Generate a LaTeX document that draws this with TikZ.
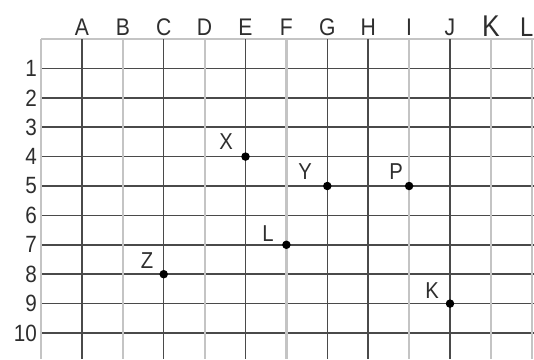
\documentclass[tikz,border=0pt]{standalone}
\usepackage{fontspec}
\setmainfont{Liberation Sans}
\newfontfamily\narrowfont[FakeStretch=0.88]{Liberation Sans}
\definecolor{darkline}{HTML}{4A4A4A}
\definecolor{lightline}{HTML}{C4C4C4}
\definecolor{txt}{HTML}{2E2E2E}
\begin{document}
\begin{tikzpicture}[x=1pt,y=-1pt,
  dk/.style={draw=darkline,line width=1.5pt},
  lt/.style={draw=lightline,line width=2.2pt},
  collab/.style={font=\narrowfont\fontsize{24}{24}\selectfont,text=txt,anchor=base,inner sep=0pt},
  rowlab/.style={font=\narrowfont\fontsize{23.5}{23.5}\selectfont,text=txt,anchor=east,inner sep=0pt},
  ptlab/.style={font=\narrowfont\fontsize{23}{23}\selectfont,text=txt,inner sep=0pt},
  dot/.style={circle,fill=black,inner sep=0pt,minimum size=8.5pt}]
\useasboundingbox (0,0) rectangle (534,359);
\fill[white] (0,0) rectangle (534,359);
% horizontal lines
\draw[lt] (41,39) -- (534,39);
\foreach \k in {1,...,10} {
  \draw[dk] (41,{39+29.4*\k}) -- (534,{39+29.4*\k});
}
% vertical lines
\draw[lt] (41,39) -- (41,359);
\foreach \i/\s in {1/dk,2/lt,3/dk,4/lt,5/dk,6/lt,7/dk,8/dk,9/lt,10/dk,11/lt,12/lt} {
  \draw[\s] ({41+40.9*\i},39) -- ({41+40.9*\i},359);
}
% column labels
\foreach \i/\l in {1/A,2/B,3/C,4/D,5/E,6/F,7/G,8/H,9/I,10/J} {
  \node[collab] (c\l) at ({41+40.9*\i},35) {\l};
}
\node[collab,font=\narrowfont\fontsize{30}{30}\selectfont] (cK) at (490.9,36) {K};
\node[collab,anchor=base west,font=\narrowfont\fontsize{27}{27}\selectfont] (cL) at (520,36) {L};
% row labels
\foreach \k in {1,...,10} {
  \node[rowlab] (r\k) at (37,{39+29.4*\k}) {\k};
}
% points
\node[dot] (X) at (245.5,156.6) {};
\node[dot] (Y) at (327.3,186) {};
\node[dot] (P) at (409.1,186) {};
\node[dot] (L) at (286.4,244.8) {};
\node[dot] (Z) at (163.7,274.2) {};
\node[dot] (K) at (450,303.6) {};
\node[ptlab] (lX) at (226,142) {X};
\node[ptlab] (lY) at (305,172) {Y};
\node[ptlab] (lP) at (396,172) {P};
\node[ptlab] (lL) at (268,234) {L};
\node[ptlab] (lZ) at (147,261) {Z};
\node[ptlab] (lK) at (432,291) {K};
\end{tikzpicture}
\end{document}
